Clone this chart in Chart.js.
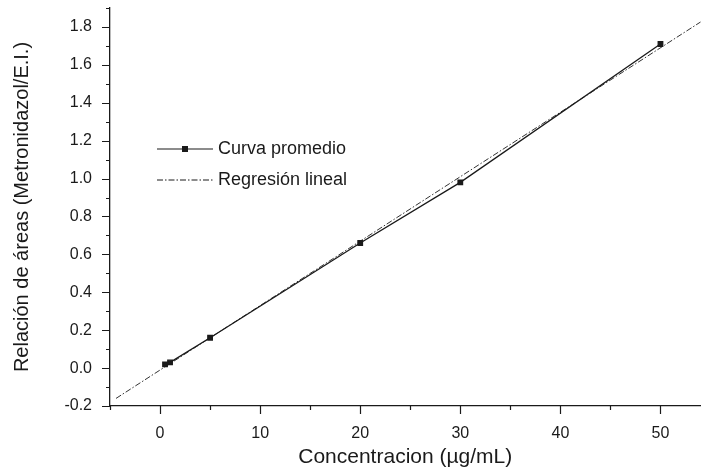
<!DOCTYPE html>
<html>
<head>
<meta charset="utf-8">
<script src="https://cdn.jsdelivr.net/npm/chart.js@4"></script>
<style>
  html, body { margin: 0; padding: 0; background: #fff; }
  #wrap { width: 705px; height: 476px; }
</style>
</head>
<body>
<div id="wrap"><canvas id="chartCurva" width="705" height="476"></canvas></div>
<script>
// ── Curva de calibración: relación de áreas vs concentración ──

const concentraciones = [0.5, 1, 5, 20, 30, 50];
const relacionAreas   = [0.02, 0.03, 0.16, 0.66, 0.98, 1.71];

// extremos de la recta de regresión (tal como se traza)
const regresionX = [-4.4, 55];
const regresionY = [-0.16, 1.86];

const xTicksMayores = [0, 10, 20, 30, 40, 50];
const xTicksMenores = [-5, 5, 15, 25, 35, 45];
const yTicksMayores = [-0.2, 0, 0.2, 0.4, 0.6, 0.8, 1.0, 1.2, 1.4, 1.6, 1.8];
const yTicksMenores = [-0.1, 0.1, 0.3, 0.5, 0.7, 0.9, 1.1, 1.3, 1.5, 1.7, 1.9];

const leyenda = ['Curva promedio', 'Regresión lineal'];

const FUENTE = '"Liberation Sans", Arial, sans-serif';
const NEGRO  = '#1a1a1a';
const RAYA_PUNTO = [6, 2, 1.5, 2];

// marcas de los ejes (mayores y menores) hacia fuera
const marcasEjes = {
  id: 'marcasEjes',
  afterDraw(chart) {
    const { ctx, scales: { x, y }, chartArea: a } = chart;
    ctx.save();
    ctx.strokeStyle = NEGRO;
    ctx.lineWidth = 1.2;
    ctx.beginPath();
    xTicksMayores.forEach(v => { const px = Math.round(x.getPixelForValue(v)) + 0.5; ctx.moveTo(px, a.bottom); ctx.lineTo(px, a.bottom + 8); });
    xTicksMenores.forEach(v => { const px = Math.round(x.getPixelForValue(v)) + 0.5; ctx.moveTo(px, a.bottom); ctx.lineTo(px, a.bottom + 4); });
    yTicksMayores.forEach(v => { const py = Math.round(y.getPixelForValue(v)) + 0.5; ctx.moveTo(a.left, py); ctx.lineTo(a.left - 8, py); });
    yTicksMenores.forEach(v => { const py = Math.round(y.getPixelForValue(v)) + 0.5; ctx.moveTo(a.left, py); ctx.lineTo(a.left - 4, py); });
    ctx.stroke();
    ctx.restore();
  }
};

// leyenda dentro del área del gráfico
const leyendaInterna = {
  id: 'leyendaInterna',
  afterDraw(chart) {
    const ctx = chart.ctx;
    const x0 = 157, x1 = 213, filas = [149, 180];
    ctx.save();
    ctx.strokeStyle = NEGRO;
    ctx.lineWidth = 1.2;
    ctx.beginPath();
    ctx.moveTo(x0, filas[0]); ctx.lineTo(x1, filas[0]);
    ctx.stroke();
    ctx.fillStyle = NEGRO;
    ctx.fillRect(185 - 3, filas[0] - 3, 6, 6);
    ctx.lineWidth = 1;
    ctx.setLineDash(RAYA_PUNTO);
    ctx.beginPath();
    ctx.moveTo(x0, filas[1]); ctx.lineTo(x1, filas[1]);
    ctx.stroke();
    ctx.setLineDash([]);
    ctx.font = '18px ' + FUENTE;
    ctx.textBaseline = 'middle';
    leyenda.forEach((t, i) => ctx.fillText(t, 218, filas[i]));
    ctx.restore();
  }
};

new Chart(document.getElementById('chartCurva'), {
  type: 'scatter',
  data: {
    datasets: [
      { label: leyenda[0], data: concentraciones.map((c, i) => ({ x: c, y: relacionAreas[i] })),
        showLine: true, borderColor: NEGRO, backgroundColor: NEGRO, borderWidth: 1.3,
        pointStyle: 'rect', pointRadius: 3.2, pointHoverRadius: 3.2, order: 1 },
      { label: leyenda[1], data: regresionX.map((c, i) => ({ x: c, y: regresionY[i] })),
        showLine: true, borderColor: '#333', borderWidth: 1, borderDash: RAYA_PUNTO,
        pointRadius: 0, order: 2 }
    ]
  },
  options: {
    responsive: false, animation: false,
    layout: { padding: { top: 8, right: 0, left: 0, bottom: 0 } },
    plugins: { legend: { display: false }, tooltip: { enabled: false } },
    scales: {
      x: {
        type: 'linear', min: -5, max: 54,
        afterBuildTicks: s => { s.ticks = xTicksMayores.map(v => ({ value: v })); },
        afterFit: s => { s.height = 70; s.paddingLeft = 0; s.paddingRight = 0; },
        grid: { display: false },
        border: { display: true, color: NEGRO, width: 1.3 },
        ticks: { color: NEGRO, font: { family: FUENTE, size: 16 }, padding: 10, maxRotation: 0 },
        title: { display: true, text: 'Concentracion (µg/mL)', color: NEGRO,
                 font: { family: FUENTE, size: 21 }, padding: { top: 0, bottom: 6 } }
      },
      y: {
        type: 'linear', min: -0.2, max: 1.9,
        afterBuildTicks: s => { s.ticks = yTicksMayores.map(v => ({ value: v })); },
        afterFit: s => { s.width = 110; s.paddingTop = 0; s.paddingBottom = 0; },
        grid: { display: false },
        border: { display: true, color: NEGRO, width: 1.3 },
        ticks: { color: NEGRO, font: { family: FUENTE, size: 16 }, padding: 10,
                 callback: v => v.toFixed(1) },
        title: { display: true, text: 'Relación de áreas (Metronidazol/E.I.)', color: NEGRO,
                 font: { family: FUENTE, size: 20 }, padding: { top: 10, bottom: 0 } }
      }
    }
  },
  plugins: [marcasEjes, leyendaInterna]
});
</script>
</body>
</html>
